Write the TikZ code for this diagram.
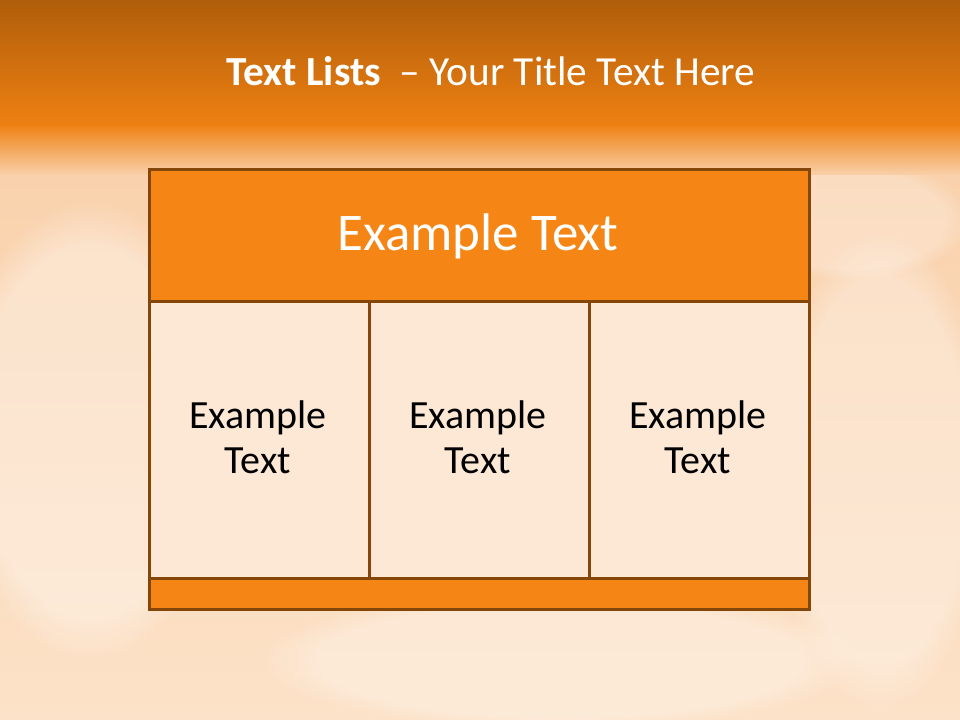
\documentclass[tikz,border=0pt]{standalone}
\usepackage{fontspec}
\setmainfont{Carlito}
\usetikzlibrary{fadings}
\definecolor{bandtop}{RGB}{176,94,10}
\definecolor{bandmid}{RGB}{238,128,18}
\definecolor{peach}{RGB}{249,208,170}
\definecolor{peachlight}{RGB}{252,226,200}
\definecolor{hdrfill}{RGB}{245,134,22}
\definecolor{brd}{RGB}{133,70,10}
\definecolor{cellfill}{RGB}{253,232,214}
\tikzset{
  tblbox/.style={draw=brd, line width=2.6pt},
  hdrbox/.style={tblbox, fill=hdrfill},
  cellbox/.style={tblbox, fill=cellfill},
  celltext/.style={text=black, font=\fontsize{30}{34}\selectfont, align=center},
  hdrtext/.style={text=white, font=\fontsize{39.7}{46}\selectfont},
  titletext/.style={text=white, font=\fontsize{31}{36}\selectfont},
  glow/.style={white, path fading=circle with fuzzy edge 20 percent}
}
\begin{document}
\begin{tikzpicture}[x=0.75pt,y=-0.75pt]
\useasboundingbox (0,0) rectangle (960,720);
% background
\shade[top color=peach, bottom color=peachlight] (0,120) rectangle (960,720);
\fill[glow, opacity=0.35] (90,430) ellipse (140 and 230);
\fill[glow, opacity=0.3] (880,470) ellipse (110 and 240);
\fill[glow, opacity=0.3] (560,660) ellipse (300 and 70);
\fill[glow, opacity=0.25] (850,220) ellipse (120 and 60);
\shade[top color=bandmid, bottom color=peach] (0,124) rectangle (960,175);
\shade[top color=bandtop, bottom color=bandmid] (0,0) rectangle (960,126);
% title
\node[titletext, anchor=base] (title) at (491,86) {\textbf{Text Lists}\ \ – Your Title Text Here};
% table
\node[hdrbox, minimum width=660*0.75pt, minimum height=132*0.75pt, anchor=north west, inner sep=0pt] (hdr) at (148,168) {};
\node[hdrtext] (hdrt) at (478,236) {Example Text};
\node[cellbox, minimum width=220*0.75pt, minimum height=277*0.75pt, anchor=north west, inner sep=0pt] (c1) at (148,300) {};
\node[cellbox, minimum width=220*0.75pt, minimum height=277*0.75pt, anchor=north west, inner sep=0pt] (c2) at (368,300) {};
\node[cellbox, minimum width=220*0.75pt, minimum height=277*0.75pt, anchor=north west, inner sep=0pt] (c3) at (588,300) {};
\node[celltext] (t1) at (258,437) {Example\\Text};
\node[celltext] (t2) at (478,437) {Example\\Text};
\node[celltext] (t3) at (698,437) {Example\\Text};
\node[hdrbox, minimum width=660*0.75pt, minimum height=31*0.75pt, anchor=north west, inner sep=0pt] (ftr) at (148,577) {};
\end{tikzpicture}
\end{document}
